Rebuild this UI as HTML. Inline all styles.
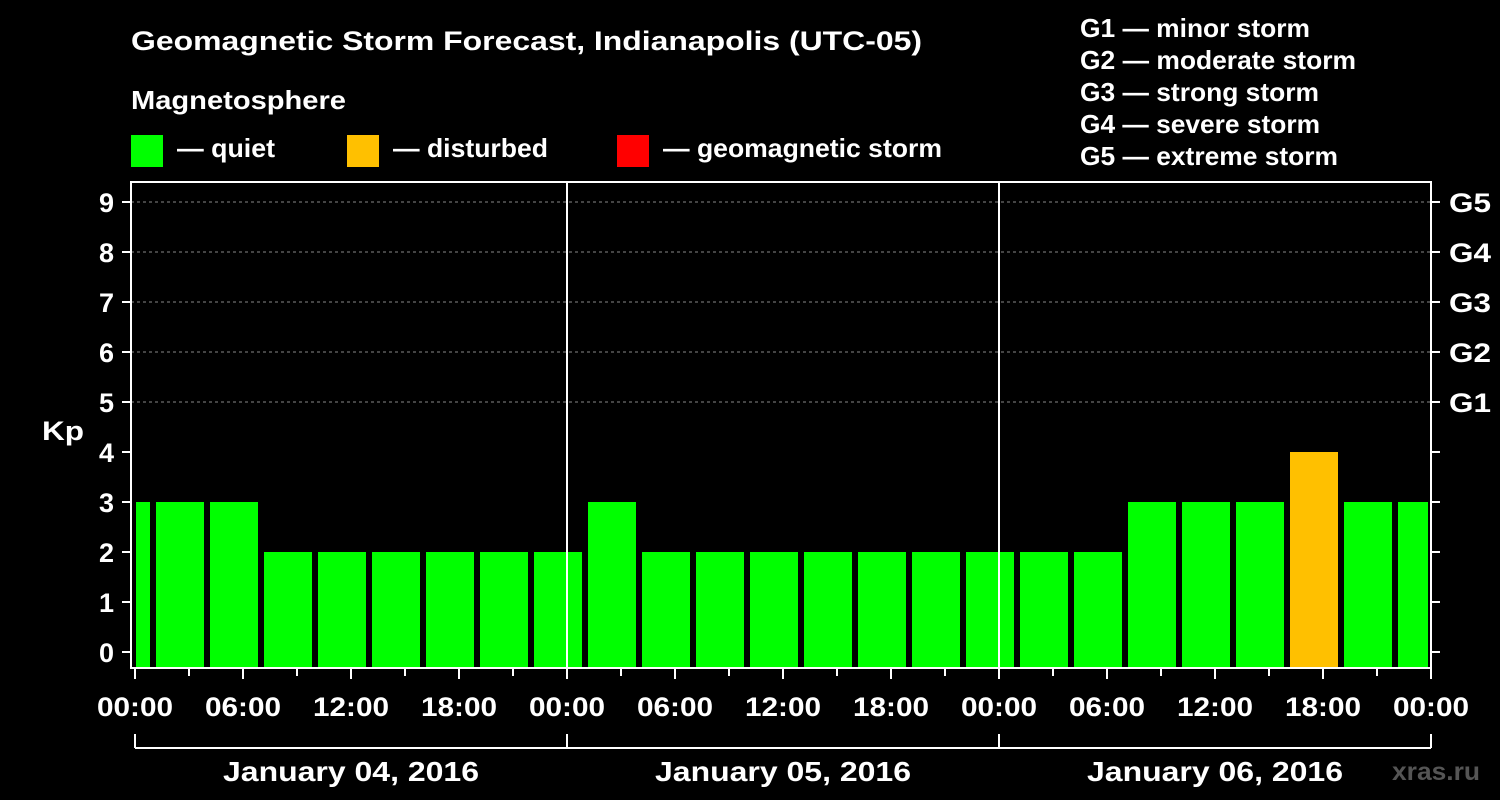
<!DOCTYPE html>
<html><head><meta charset="utf-8"><style>
body{margin:0;background:#000;}
svg{display:block;font-family:"Liberation Sans",Arial,sans-serif;font-weight:bold;}
</style></head><body>
<svg id="c" width="1500" height="800" viewBox="0 0 1500 800">
<rect width="1500" height="800" fill="#000"/>
<text x="131" y="50" fill="#fff" font-size="27" textLength="791" lengthAdjust="spacingAndGlyphs">Geomagnetic Storm Forecast, Indianapolis (UTC-05)</text>
<text x="131" y="109" fill="#fff" font-size="26" textLength="215" lengthAdjust="spacingAndGlyphs">Magnetosphere</text>
<g><rect x="131" y="135" width="32" height="32" fill="#00ff00"/><text x="177" y="157" fill="#fff" font-size="26" textLength="98" lengthAdjust="spacingAndGlyphs">— quiet</text></g>
<g><rect x="347" y="135" width="32" height="32" fill="#ffc000"/><text x="393" y="157" fill="#fff" font-size="26" textLength="155" lengthAdjust="spacingAndGlyphs">— disturbed</text></g>
<g><rect x="617" y="135" width="32" height="32" fill="#ff0000"/><text x="663" y="157" fill="#fff" font-size="26" textLength="279" lengthAdjust="spacingAndGlyphs">— geomagnetic storm</text></g>
<g fill="#fff" font-size="26" lengthAdjust="spacingAndGlyphs">
<text x="1080" y="37" textLength="230" lengthAdjust="spacingAndGlyphs">G1 — minor storm</text>
<text x="1080" y="69" textLength="276" lengthAdjust="spacingAndGlyphs">G2 — moderate storm</text>
<text x="1080" y="101" textLength="239" lengthAdjust="spacingAndGlyphs">G3 — strong storm</text>
<text x="1080" y="133" textLength="240" lengthAdjust="spacingAndGlyphs">G4 — severe storm</text>
<text x="1080" y="165" textLength="258" lengthAdjust="spacingAndGlyphs">G5 — extreme storm</text>
</g>
<text x="42" y="440" fill="#fff" font-size="27" textLength="42" lengthAdjust="spacingAndGlyphs">Kp</text>
<text x="1392" y="780" fill="#555" font-size="25" textLength="88" lengthAdjust="spacingAndGlyphs">xras.ru</text>
<g id="plot"></g>
</svg>
<script>
const values=[3,3,3,2,2,2,2,2,2,3,2,2,2,2,2,2,2,2,2,3,3,3,4,3,3];
const blockStartHours=[-2,1,4,7,10,13,16,19,22,25,28,31,34,37,40,43,46,49,52,55,58,61,64,67,70];
const dayLabels=["January 04, 2016","January 05, 2016","January 06, 2016"];
const hourLabels=["00:00","06:00","12:00","18:00"];
const gLabels=["G1","G2","G3","G4","G5"];
const NS='http://www.w3.org/2000/svg';
const P=document.getElementById('plot');
const X0=135,PH=18,L=131,R=1431,T=182,B=668;
const x=h=>X0+h*PH;
const y=v=>652-v*50;
function el(t,a,p){const e=document.createElementNS(NS,t);for(const k in a)e.setAttribute(k,a[k]);(p||P).appendChild(e);return e;}
for(let v=5;v<=9;v++){const g=el('line',{x1:L,x2:R,y1:y(v),y2:y(v),stroke:'#888','stroke-dasharray':'3,3','stroke-width':1});

}
blockStartHours.forEach((h,i)=>{const v=values[i];
let x1=x(h)+3,x2=x(h+3)-3;if(x1<L+4)x1=L+5;if(x2>R-3)x2=R-3;
const r=el('rect',{x:x1,y:y(v),width:x2-x1,height:B-y(v),fill:v>=5?'#ff0000':(v>=4?'#ffc000':'#00ff00')});

});
[1,2].forEach(d=>{const l=el('line',{x1:x(24*d),x2:x(24*d),y1:T,y2:B,stroke:'#fff','stroke-width':2});

});
const f=el('rect',{x:L,y:T,width:R-L,height:B-T,fill:'none',stroke:'#fff','stroke-width':2});


for(let v=0;v<=9;v++){el('line',{x1:122,x2:L,y1:y(v),y2:y(v),stroke:'#fff','stroke-width':2});
el('line',{x1:R,x2:R+9,y1:y(v),y2:y(v),stroke:'#fff','stroke-width':2});
const t=el('text',{x:114,y:y(v)+10,fill:'#fff','font-size':27,'text-anchor':'end'});t.textContent=v;

}
gLabels.forEach((g,i)=>{const t=el('text',{x:1449,y:y(5+i)+10,fill:'#fff','font-size':27,textLength:42,lengthAdjust:'spacingAndGlyphs'});t.textContent=g;

});
for(let h=0;h<=72;h+=3){const major=h%6===0;el('line',{x1:x(h),x2:x(h),y1:B,y2:B+(major?11:8),stroke:'#fff','stroke-width':2});
if(major){const t=el('text',{x:x(h),y:716,fill:'#fff','font-size':27,'text-anchor':'middle',textLength:76,lengthAdjust:'spacingAndGlyphs'});t.textContent=hourLabels[(h/6)%4];

}}
el('line',{x1:X0,x2:x(72),y1:748,y2:748,stroke:'#fff','stroke-width':2});
for(let d=0;d<=3;d++)el('line',{x1:x(24*d),x2:x(24*d),y1:734,y2:748,stroke:'#fff','stroke-width':2});
dayLabels.forEach((s,d)=>{const t=el('text',{x:x(24*d+12),y:781,fill:'#fff','font-size':28,'text-anchor':'middle',textLength:256,lengthAdjust:'spacingAndGlyphs'});t.textContent=s;

});
</script>
</body></html>
